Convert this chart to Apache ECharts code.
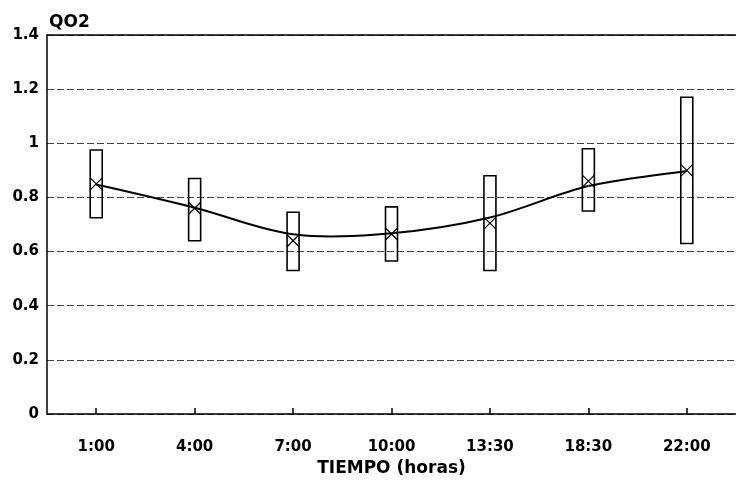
<!DOCTYPE html>
<html>
<head>
<meta charset="utf-8">
<script src="https://cdn.jsdelivr.net/npm/echarts@6/dist/echarts.min.js"></script>
<style>
  html, body { margin: 0; padding: 0; background: #fff; }
  #chart { width: 736px; height: 482px; }
</style>
</head>
<body>
<div id="chart"></div>
<script>
// Sampling times
const categories = ['1:00', '4:00', '7:00', '10:00', '13:30', '18:30', '22:00'];
// Mean QO2 at each time (X marks)
const meanValues = [0.85, 0.76, 0.64, 0.665, 0.705, 0.86, 0.90];
// Range bars: upper and lower limits
const upperValues = [0.975, 0.87, 0.745, 0.765, 0.88, 0.98, 1.17];
const lowerValues = [0.725, 0.64, 0.53, 0.565, 0.53, 0.75, 0.63];
// Fitted trend curve
const trendValues = [0.848, 0.762, 0.664, 0.668, 0.726, 0.842, 0.898];

const FONT = 'DejaVu Sans';

const boxData = categories.map((c, i) => [i, lowerValues[i], upperValues[i], meanValues[i]]);

const chart = echarts.init(document.getElementById('chart'), null, { renderer: 'canvas' });

// Trend curve drawn as a Catmull-Rom spline through the fitted values
function renderTrend(params, api) {
  const pts = trendValues.map((v, i) => api.coord([i, v]));
  const n = pts.length;
  const children = [];
  for (let i = 0; i < n - 1; i++) {
    const p0 = pts[Math.max(i - 1, 0)];
    const p1 = pts[i];
    const p2 = pts[i + 1];
    const p3 = pts[Math.min(i + 2, n - 1)];
    children.push({
      type: 'bezierCurve',
      shape: {
        x1: p1[0], y1: p1[1],
        x2: p2[0], y2: p2[1],
        cpx1: p1[0] + (p2[0] - p0[0]) / 6, cpy1: p1[1] + (p2[1] - p0[1]) / 6,
        cpx2: p2[0] - (p3[0] - p1[0]) / 6, cpy2: p2[1] - (p3[1] - p1[1]) / 6
      },
      style: { stroke: '#000', lineWidth: 2, fill: null }
    });
  }
  return { type: 'group', children: children };
}

chart.setOption({
  animation: false,
  backgroundColor: '#ffffff',
  title: {
    text: 'QO2',
    left: 44,
    top: 9,
    textStyle: { fontFamily: FONT, fontWeight: 'bold', fontSize: 17, color: '#000' }
  },
  grid: { left: 47, top: 35, width: 690, height: 388, containLabel: false },
  xAxis: [{
    type: 'category',
    data: categories,
    boundaryGap: true,
    axisLine: { show: true, lineStyle: { color: '#000', width: 1.5 } },
    axisTick: { show: true, inside: true, alignWithLabel: true, length: 6, lineStyle: { color: '#000', width: 1.5 } },
    axisLabel: { fontFamily: FONT, fontWeight: 'bold', fontSize: 15, color: '#000', margin: 26 },
    name: 'TIEMPO (horas)',
    nameLocation: 'middle',
    nameGap: 46,
    nameTextStyle: { fontFamily: FONT, fontWeight: 'bold', fontSize: 17, color: '#000' },
    splitLine: { show: false }
  }, {
    type: 'category',
    data: categories,
    position: 'top',
    axisLine: { show: true, lineStyle: { color: '#000', width: 1.5 } },
    axisTick: { show: false },
    axisLabel: { show: false },
    splitLine: { show: false }
  }],
  yAxis: {
    type: 'value',
    min: 0,
    max: 1.4,
    interval: 0.2,
    axisLine: { show: true, lineStyle: { color: '#000', width: 1.5 } },
    axisTick: { show: false },
    axisLabel: { fontFamily: FONT, fontWeight: 'bold', fontSize: 15, color: '#000', margin: 8 },
    splitLine: { show: true, lineStyle: { color: '#444', width: 1, type: [7, 3] } }
  },
  series: [
    {
      type: 'custom',
      data: [[0, trendValues[0]]],
      encode: { x: 0, y: 1 },
      renderItem: renderTrend,
      z: 3,
      silent: true
    },
    {
      type: 'custom',
      data: boxData,
      encode: { x: 0, y: [1, 2, 3] },
      z: 4,
      renderItem: function (params, api) {
        const lo = api.coord([api.value(0), api.value(1)]);
        const hi = api.coord([api.value(0), api.value(2)]);
        const mid = api.coord([api.value(0), api.value(3)]);
        const hw = 6;
        const ch = 6;
        return {
          type: 'group',
          children: [
            {
              type: 'rect',
              shape: { x: lo[0] - hw, y: hi[1], width: hw * 2, height: lo[1] - hi[1] },
              style: { fill: 'rgba(255,255,255,0)', stroke: '#000', lineWidth: 1.6 }
            },
            {
              type: 'line',
              shape: { x1: mid[0] - hw, y1: mid[1] - ch, x2: mid[0] + hw, y2: mid[1] + ch },
              style: { stroke: '#000', lineWidth: 1.2 }
            },
            {
              type: 'line',
              shape: { x1: mid[0] - hw, y1: mid[1] + ch, x2: mid[0] + hw, y2: mid[1] - ch },
              style: { stroke: '#000', lineWidth: 1.2 }
            }
          ]
        };
      }
    }
  ]
});
</script>
</body>
</html>
